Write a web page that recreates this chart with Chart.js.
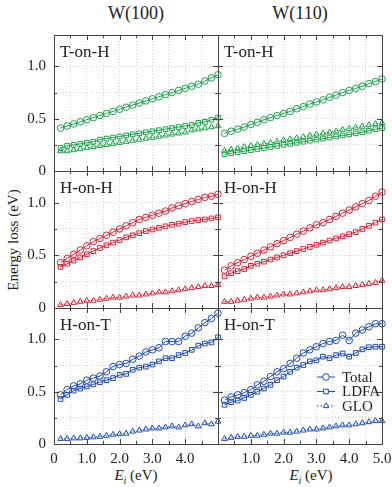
<!DOCTYPE html>
<html>
<head>
<meta charset="utf-8">
<script src="https://cdn.jsdelivr.net/npm/chart.js@4.4.1/dist/chart.umd.min.js"></script>
<style>
  body { margin: 0; background: #fff; width: 392px; height: 487px; position: relative; overflow: hidden;
         font-family: 'Liberation Serif'; color: #222; }
  .box { position: absolute; }
  .lbl { position: absolute; white-space: nowrap; line-height: 1; font-family: 'Liberation Serif'; }
</style>
</head>
<body>
<div class="lbl" style="left:136px;top:4px;font-size:18px;transform:translateX(-50%)">W(100)</div>
<div class="lbl" style="left:300px;top:4px;font-size:18px;transform:translateX(-50%)">W(110)</div>
<div class="lbl" style="left:13px;top:240px;font-size:15px;transform:translate(-50%,-50%) rotate(-90deg)">Energy loss (eV)</div>
<div class="lbl" style="left:136px;top:468px;font-size:15px;transform:translateX(-50%)"><i>E</i><sub style="font-size:10px"><i>i</i></sub> (eV)</div>
<div class="lbl" style="left:311px;top:468px;font-size:15px;transform:translateX(-50%)"><i>E</i><sub style="font-size:10px"><i>i</i></sub> (eV)</div>
<div id="wrap"></div>

<script>
// Incidence energies (eV)
const energies = [0.2, 0.4, 0.6, 0.8, 1.0, 1.2, 1.4, 1.6, 1.8, 2.0, 2.2, 2.4, 2.6,
                  2.8, 3.0, 3.2, 3.4, 3.6, 3.8, 4.0, 4.2, 4.4, 4.6, 4.8, 5.0];

// W(100), T-on-H
const w100TonHTotal = [0.41, 0.43, 0.45, 0.47, 0.49, 0.51, 0.53, 0.55, 0.57, 0.59, 0.61, 0.63, 0.65,
                       0.67, 0.69, 0.71, 0.73, 0.75, 0.77, 0.79, 0.81, 0.83, 0.86, 0.89, 0.92];
const w100TonHLdfa  = [0.22, 0.24, 0.25, 0.26, 0.27, 0.28, 0.30, 0.31, 0.32, 0.33, 0.34, 0.35, 0.36,
                       0.37, 0.38, 0.39, 0.40, 0.41, 0.42, 0.43, 0.44, 0.46, 0.47, 0.49, 0.51];
const w100TonHGlo   = [0.19, 0.19, 0.20, 0.21, 0.22, 0.23, 0.24, 0.25, 0.26, 0.27, 0.28, 0.29, 0.30,
                       0.31, 0.32, 0.33, 0.34, 0.35, 0.36, 0.37, 0.39, 0.40, 0.41, 0.42, 0.43];

// W(110), T-on-H
const w110TonHTotal = [0.36, 0.38, 0.40, 0.42, 0.445, 0.465, 0.49, 0.51, 0.53, 0.55, 0.57, 0.595, 0.615,
                       0.64, 0.66, 0.68, 0.705, 0.725, 0.75, 0.77, 0.79, 0.81, 0.835, 0.855, 0.88];
const w110TonHLdfa  = [0.16, 0.17, 0.18, 0.19, 0.20, 0.21, 0.22, 0.23, 0.24, 0.25, 0.26, 0.27, 0.28,
                       0.29, 0.30, 0.31, 0.32, 0.33, 0.34, 0.35, 0.36, 0.37, 0.385, 0.40, 0.41];
const w110TonHGlo   = [0.195, 0.205, 0.215, 0.23, 0.24, 0.25, 0.26, 0.27, 0.28, 0.295, 0.305, 0.315, 0.325,
                       0.34, 0.35, 0.36, 0.37, 0.38, 0.395, 0.405, 0.415, 0.425, 0.44, 0.45, 0.46];

// W(100), H-on-H
const w100HonHTotal = [0.43, 0.47, 0.51, 0.55, 0.59, 0.63, 0.66, 0.69, 0.72, 0.75, 0.78, 0.81, 0.84,
                       0.86, 0.88, 0.90, 0.92, 0.95, 0.97, 0.99, 1.01, 1.03, 1.05, 1.06, 1.08];
const w100HonHLdfa  = [0.39, 0.42, 0.45, 0.48, 0.51, 0.54, 0.57, 0.595, 0.62, 0.645, 0.67, 0.69, 0.71,
                       0.73, 0.745, 0.76, 0.775, 0.79, 0.80, 0.815, 0.825, 0.835, 0.84, 0.85, 0.86];
const w100HonHGlo   = [0.03, 0.04, 0.05, 0.06, 0.07, 0.07, 0.08, 0.09, 0.10, 0.10, 0.11, 0.12, 0.12,
                       0.13, 0.14, 0.15, 0.15, 0.16, 0.17, 0.18, 0.19, 0.20, 0.21, 0.21, 0.22];

// W(110), H-on-H
const w110HonHTotal = [0.36, 0.40, 0.43, 0.46, 0.49, 0.52, 0.55, 0.58, 0.61, 0.64, 0.67, 0.70, 0.73,
                       0.76, 0.79, 0.81, 0.84, 0.87, 0.90, 0.93, 0.96, 0.99, 1.02, 1.06, 1.10];
const w110HonHLdfa  = [0.30, 0.33, 0.35, 0.37, 0.40, 0.42, 0.44, 0.46, 0.48, 0.50, 0.52, 0.54, 0.56,
                       0.58, 0.60, 0.62, 0.64, 0.66, 0.68, 0.70, 0.72, 0.75, 0.78, 0.81, 0.84];
const w110HonHGlo   = [0.06, 0.06, 0.07, 0.08, 0.09, 0.10, 0.10, 0.11, 0.12, 0.13, 0.13, 0.14, 0.15,
                       0.16, 0.17, 0.17, 0.18, 0.19, 0.20, 0.20, 0.21, 0.22, 0.23, 0.24, 0.26];

// W(100), H-on-T
const w100HonTTotal = [0.47, 0.52, 0.555, 0.575, 0.61, 0.63, 0.65, 0.69, 0.74, 0.76, 0.77, 0.81, 0.84,
                       0.88, 0.90, 0.92, 0.98, 0.98, 0.98, 1.03, 1.06, 1.11, 1.16, 1.20, 1.25];
const w100HonTLdfa  = [0.43, 0.47, 0.51, 0.53, 0.55, 0.57, 0.59, 0.61, 0.63, 0.66, 0.67, 0.71, 0.73,
                       0.74, 0.76, 0.79, 0.82, 0.82, 0.85, 0.87, 0.90, 0.94, 0.96, 0.97, 1.02];
const w100HonTGlo   = [0.05, 0.05, 0.055, 0.055, 0.06, 0.065, 0.07, 0.08, 0.09, 0.095, 0.10, 0.12, 0.13,
                       0.14, 0.15, 0.15, 0.16, 0.17, 0.16, 0.18, 0.19, 0.17, 0.20, 0.19, 0.215];

// W(110), H-on-T
const w110HonTTotal = [0.42, 0.45, 0.47, 0.49, 0.52, 0.565, 0.60, 0.645, 0.69, 0.72, 0.77, 0.82, 0.87,
                       0.90, 0.93, 0.96, 0.98, 0.99, 1.04, 0.99, 1.06, 1.09, 1.12, 1.15, 1.15];
const w110HonTLdfa  = [0.375, 0.40, 0.415, 0.44, 0.47, 0.50, 0.53, 0.565, 0.61, 0.645, 0.69, 0.73, 0.755,
                       0.79, 0.80, 0.835, 0.82, 0.85, 0.865, 0.835, 0.87, 0.905, 0.925, 0.93, 0.93];
const w110HonTGlo   = [0.05, 0.06, 0.07, 0.07, 0.08, 0.08, 0.09, 0.10, 0.10, 0.11, 0.11, 0.12, 0.13,
                       0.14, 0.14, 0.15, 0.16, 0.17, 0.18, 0.18, 0.19, 0.20, 0.21, 0.22, 0.22];

const seriesNames = ["Total", "LDFA", "GLO"];
const green = "rgb(30, 160, 75)";
const red = "rgb(210, 35, 55)";
const blue = "rgb(30, 75, 175)";

const panels = [
  { col: 0, row: 0, label: "T-on-H", color: green, series: [w100TonHTotal, w100TonHLdfa, w100TonHGlo] },
  { col: 1, row: 0, label: "T-on-H", color: green, series: [w110TonHTotal, w110TonHLdfa, w110TonHGlo] },
  { col: 0, row: 1, label: "H-on-H", color: red,   series: [w100HonHTotal, w100HonHLdfa, w100HonHGlo] },
  { col: 1, row: 1, label: "H-on-H", color: red,   series: [w110HonHTotal, w110HonHLdfa, w110HonHGlo] },
  { col: 0, row: 2, label: "H-on-T", color: blue,  series: [w100HonTTotal, w100HonTLdfa, w100HonTGlo] },
  { col: 1, row: 2, label: "H-on-T", color: blue,  series: [w110HonTTotal, w110HonTLdfa, w110HonTGlo], legend: true },
];

// Panel geometry (page pixels)
const colLeft = [54, 218];
const colWidth = 164;
const rowTop = [35, 171, 308];
const rowHeight = [136, 137, 136];

const serif = "'Liberation Serif'";
Chart.defaults.font.family = serif;
Chart.defaults.font.size = 15;
Chart.defaults.color = "#222";

const styles = [
  { pointStyle: "circle", borderDash: [] },
  { pointStyle: "rect", borderDash: [] },
  { pointStyle: "triangle", borderDash: [1.5, 2] },
];

// Frame with inward ticks, panel label and legend
const framePlugin = {
  id: "frame",
  afterDatasetsDraw(chart) {
    const { ctx, chartArea: a, scales } = chart;
    ctx.save();
    ctx.strokeStyle = "#444";
    ctx.lineWidth = 1;
    ctx.beginPath();
    scales.x.ticks.forEach((t) => {
      const px = Math.round(scales.x.getPixelForValue(t.value)) + 0.5;
      const len = Math.abs(t.value - Math.round(t.value)) < 1e-6 ? 5 : 3;
      ctx.moveTo(px, a.bottom); ctx.lineTo(px, a.bottom - len);
      ctx.moveTo(px, a.top); ctx.lineTo(px, a.top + len);
    });
    scales.y.ticks.forEach((t) => {
      const py = Math.round(scales.y.getPixelForValue(t.value)) + 0.5;
      const len = Math.abs(t.value * 2 - Math.round(t.value * 2)) < 1e-6 ? 5 : 3;
      ctx.moveTo(a.left, py); ctx.lineTo(a.left + len, py);
      ctx.moveTo(a.right, py); ctx.lineTo(a.right - len, py);
    });
    ctx.stroke();
    ctx.strokeRect(Math.round(a.left) + 0.5, Math.round(a.top) + 0.5,
                   Math.round(a.width), Math.round(a.height));

    ctx.fillStyle = "#222";
    ctx.font = "17px " + serif;
    ctx.textBaseline = "alphabetic";
    ctx.fillText(chart.options.panelLabel, a.left + 6, a.top + 22);

    if (chart.options.showLegend) {
      ctx.font = "15px " + serif;
      chart.data.datasets.forEach((ds, i) => {
        const y = a.top + 69 + i * 14.5;
        const x0 = a.left + 99, x1 = a.left + 117;
        ctx.strokeStyle = ds.borderColor;
        ctx.lineWidth = 1;
        ctx.setLineDash(ds.borderDash || []);
        ctx.beginPath();
        ctx.moveTo(x0, y); ctx.lineTo(x1, y);
        ctx.stroke();
        ctx.setLineDash([]);
        ctx.fillStyle = "#fff";
        Chart.helpers.drawPoint(ctx, {
          pointStyle: ds.pointStyle, radius: ds.pointRadius, rotation: 0,
          borderWidth: ds.pointBorderWidth,
        }, (x0 + x1) / 2, y);
        ctx.fillStyle = "#222";
        ctx.textBaseline = "middle";
        ctx.fillText(ds.label, a.left + 124, y + 1);
      });
    }
    ctx.restore();
  },
};

function fmtX(v) {
  return v === 0 ? "0" : v.toFixed(1);
}

panels.forEach((p) => {
  const isBottom = p.row === 2;
  const padL = p.col === 0 ? 0 : 6;
  const yAxisW = p.col === 0 ? 54 : 0;
  const padR = p.col === 0 ? 6 : 20;
  const padT = 20;
  const padB = isBottom ? 0 : 20;
  const xAxisH = isBottom ? 30 : 0;

  const box = document.createElement("div");
  box.className = "box";
  box.style.left = (colLeft[p.col] - yAxisW - padL) + "px";
  box.style.top = (rowTop[p.row] - padT) + "px";
  box.style.width = (padL + yAxisW + colWidth + padR) + "px";
  box.style.height = (padT + rowHeight[p.row] + xAxisH + padB) + "px";
  const canvas = document.createElement("canvas");
  box.appendChild(canvas);
  document.getElementById("wrap").appendChild(box);

  const datasets = p.series.map((vals, i) => ({
    label: seriesNames[i],
    data: energies.map((e, k) => ({ x: e, y: vals[k] })),
    borderColor: p.color,
    backgroundColor: "rgba(0,0,0,0)",
    borderWidth: 1,
    borderDash: styles[i].borderDash,
    pointStyle: styles[i].pointStyle,
    pointRadius: 3.3,
    pointBorderWidth: 1,
    pointBackgroundColor: "rgba(0,0,0,0)",
    pointBorderColor: p.color,
    fill: false,
    tension: 0,
    clip: false,
  }));

  new Chart(canvas, {
    type: "line",
    data: { datasets },
    options: {
      responsive: true,
      maintainAspectRatio: false,
      animation: false,
      devicePixelRatio: 1,
      events: [],
      panelLabel: p.label,
      showLegend: !!p.legend,
      layout: { padding: { left: padL, right: padR, top: padT, bottom: padB } },
      plugins: { legend: { display: false }, tooltip: { enabled: false } },
      scales: {
        x: {
          type: "linear",
          min: 0,
          max: 5,
          ticks: {
            stepSize: 0.5,
            display: isBottom,
            padding: 6,
            maxRotation: 0,
            autoSkip: false,
            callback: (v) => {
              if (Math.abs(v - Math.round(v)) > 1e-6) return "";
              if (p.col === 0 && v === 5) return "";
              if (p.col === 1 && v === 0) return "";
              return fmtX(v);
            },
          },
          grid: { color: "#d4d4d4", drawTicks: false, lineWidth: 1 },
          border: { display: false, dash: [1, 2] },
          afterFit: (s) => { s.height = xAxisH; },
        },
        y: {
          min: 0,
          max: 1.3,
          ticks: {
            stepSize: 0.25,
            display: p.col === 0,
            padding: 8,
            autoSkip: false,
            callback: (v) => (v === 0 ? "0" : v === 0.5 ? "0.5" : v === 1 ? "1.0" : ""),
          },
          grid: { color: "#d4d4d4", drawTicks: false, lineWidth: 1 },
          border: { display: false, dash: [1, 2] },
          afterFit: (s) => { s.width = yAxisW; },
        },
      },
    },
    plugins: [framePlugin],
  });
});
</script>
</body>
</html>
